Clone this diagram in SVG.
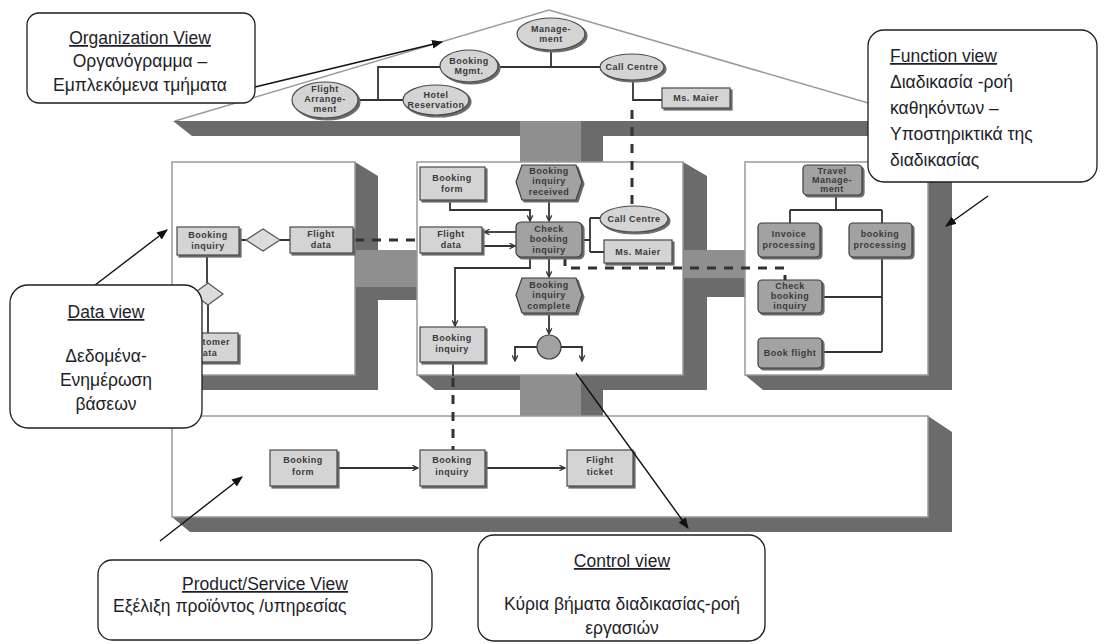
<svg xmlns="http://www.w3.org/2000/svg" width="1105" height="644" viewBox="0 0 1105 644">
<defs>
<style>
.sh{fill:#6b6b6b}
.lt{fill:#8f8f8f}
.blk{fill:#fff;stroke:#9a9a9a;stroke-width:1.5}
.nl{fill:#d4d4d4;stroke:#4a4a4a;stroke-width:1.2;filter:url(#ds)}
.nd{fill:#a2a2a2;stroke:#3a3a3a;stroke-width:1.2;filter:url(#ds)}
.nt{font-family:"Liberation Sans",Arial,sans-serif;font-weight:bold;font-size:9px;fill:#3a3a3a;text-anchor:middle;letter-spacing:0.5px}
.ln{fill:none;stroke:#333;stroke-width:1.8}
.dash{fill:none;stroke:#333;stroke-width:3;stroke-dasharray:9 8}
.co{fill:#fff;stroke:#1e1e1e;stroke-width:1.3}
.ct{font-family:"Liberation Sans",Arial,sans-serif;font-size:17.5px;fill:#1e1e2a}
.u{text-decoration:underline}
.ca{fill:none;stroke:#111;stroke-width:1.4}
</style>
<filter id="ds" x="-10%" y="-10%" width="130%" height="140%">
<feDropShadow dx="2" dy="2" stdDeviation="0.6" flood-color="#6a6a6a" flood-opacity="1"/>
</filter>
<marker id="ar" viewBox="0 0 10 10" refX="9" refY="5" markerWidth="7" markerHeight="7" orient="auto" markerUnits="userSpaceOnUse">
<path d="M1,1 L9,5 L1,9" fill="none" stroke="#333" stroke-width="1.8"/>
</marker>
<marker id="ca" viewBox="0 0 10 10" refX="9" refY="5" markerWidth="11" markerHeight="11" orient="auto" markerUnits="userSpaceOnUse">
<path d="M0,1 L10,5 L0,9 Z" fill="#111"/>
</marker>
</defs>

<g id="house">
<polyline points="175,121 549,10 930,121" fill="#fff" stroke="#9a9a9a" stroke-width="1.5"/>
<polygon class="sh" points="173,121 930,121 930,136 192,136"/>
<rect class="lt" x="520" y="121" width="61" height="41"/>
<rect class="sh" x="581" y="136" width="22" height="26"/>
<polygon class="sh" points="355,162 378,176 378,390 190,390 172,375 355,375"/>
<polygon class="sh" points="683,162 707,176 707,390 435,390 417,375 683,375"/>
<polygon class="sh" points="928,121 952,136 952,390 763,390 745,375 928,375"/>
<polygon class="sh" points="928,416 952,432 952,532 190,532 172,517 928,517"/>
<rect class="lt" x="356" y="250" width="61" height="37"/>
<rect class="sh" x="356" y="287" width="61" height="13"/>
<rect class="lt" x="684" y="250" width="61" height="28"/>
<rect class="sh" x="684" y="278" width="61" height="19"/>
<rect class="lt" x="520" y="375" width="61" height="41"/>
<rect class="sh" x="581" y="375" width="22" height="41"/>
<rect class="blk" x="172" y="162" width="183" height="213"/>
<rect class="blk" x="417" y="162" width="266" height="213"/>
<rect class="blk" x="745" y="162" width="183" height="213"/>
<rect class="blk" x="172" y="416" width="756" height="101"/>
</g>

<g id="connectors">
<path class="ln" d="M551,50 V67 M498,67 H600 M358,100 H403 M378,100 V67 H440 M633,80 V100 H662"/>
<path class="dash" d="M632,110 V206"/>
<path class="ln" d="M450,200 V210 H530 V221" marker-end="url(#ar)"/>
<path class="ln" d="M549,200 V221" marker-end="url(#ar)"/>
<path class="ln" d="M516,232 H484" marker-end="url(#ar)"/>
<path class="ln" d="M482,246 H515" marker-end="url(#ar)"/>
<path class="ln" d="M582,240 H590 M590,218 V252 M590,218 H600 M590,252 H604"/>
<path class="ln" d="M549,257 V277" marker-end="url(#ar)"/>
<path class="ln" d="M530,257 V268 H455 V326" marker-end="url(#ar)"/>
<path class="ln" d="M549,313 V334" marker-end="url(#ar)"/>
<path class="ln" d="M537,347 H515 V361" marker-end="url(#ar)"/>
<path class="ln" d="M561,347 H582 V361" marker-end="url(#ar)"/>
<path class="ln" d="M453,362 V376" stroke-width="3"/>
<path class="dash" d="M453,378 V450"/>
<path class="dash" d="M565,257 V268 H785 V280"/>
<path class="dash" d="M355,240 H420"/>
<path class="ln" d="M239,240 H246 M280,240 H290 M207,255 V283 M208,305 V333" stroke-width="2.5"/>
<path class="ln" d="M836,195 V210 M790,210 H882 M790,210 V223 M882,210 V223 M882,257 V352 M822,297 H882 M822,352 H882"/>
<path class="ln" d="M337,468 H418" marker-end="url(#ar)"/>
<path class="ln" d="M485,468 H565" marker-end="url(#ar)"/>
</g>

<g id="org-management"><ellipse class="nl" cx="551" cy="34" rx="34" ry="16"/><text class="nt" x="551" y="32">Manage-</text><text class="nt" x="551" y="42">ment</text></g>
<g id="org-booking-mgmt"><ellipse class="nl" cx="469" cy="66" rx="29" ry="16"/><text class="nt" x="469" y="64">Booking</text><text class="nt" x="469" y="74">Mgmt.</text></g>
<g id="org-call-centre"><ellipse class="nl" cx="632" cy="67" rx="32" ry="13"/><text class="nt" x="632" y="70">Call Centre</text></g>
<g id="org-flight-arrangement"><ellipse class="nl" cx="325" cy="100" rx="33" ry="18"/><text class="nt" x="325" y="92">Flight</text><text class="nt" x="325" y="102">Arrange-</text><text class="nt" x="325" y="112">ment</text></g>
<g id="org-hotel"><ellipse class="nl" cx="436" cy="100" rx="33" ry="15"/><text class="nt" x="436" y="98">Hotel</text><text class="nt" x="436" y="108" letter-spacing="0">Reservation</text></g>
<g id="org-ms-maier"><rect class="nl" x="662" y="88" width="68" height="20"/><text class="nt" x="696" y="101">Ms. Maier</text></g>

<g id="mid-booking-form"><rect class="nl" x="420" y="167" width="65" height="33"/><text class="nt" x="452" y="181">Booking</text><text class="nt" x="452" y="192">form</text></g>
<g id="mid-received"><polygon class="nd" points="522,165 576,165 582,182 576,200 522,200 516,182"/><text class="nt" x="549" y="174">Booking</text><text class="nt" x="549" y="184">inquiry</text><text class="nt" x="549" y="195">received</text></g>
<g id="mid-check"><rect class="nd" x="516" y="222" width="66" height="35" rx="5"/><text class="nt" x="549" y="232">Check</text><text class="nt" x="549" y="242">booking</text><text class="nt" x="549" y="253">inquiry</text></g>
<g id="mid-flight-data"><rect class="nl" x="420" y="227" width="62" height="26"/><text class="nt" x="451" y="237">Flight</text><text class="nt" x="451" y="248">data</text></g>
<g id="mid-call-centre"><ellipse class="nl" cx="634" cy="219" rx="34" ry="13"/><text class="nt" x="634" y="222">Call Centre</text></g>
<g id="mid-ms-maier"><rect class="nl" x="604" y="240" width="68" height="23"/><text class="nt" x="638" y="255">Ms. Maier</text></g>
<g id="mid-complete"><polygon class="nd" points="522,278 576,278 582,295 576,313 522,313 516,295"/><text class="nt" x="549" y="288">Booking</text><text class="nt" x="549" y="298">inquiry</text><text class="nt" x="549" y="309">complete</text></g>
<g id="mid-connector"><circle cx="549" cy="347" r="12" fill="#a2a2a2" stroke="#3a3a3a" stroke-width="1.2"/></g>
<g id="mid-booking-inquiry"><rect class="nl" x="420" y="327" width="65" height="35"/><text class="nt" x="452" y="341">Booking</text><text class="nt" x="452" y="352">inquiry</text></g>

<g id="data-booking-inquiry"><rect class="nl" x="177" y="227" width="62" height="28"/><text class="nt" x="208" y="238">Booking</text><text class="nt" x="208" y="249">inquiry</text></g>
<g id="data-rel1"><polygon points="246,240 263,229 280,240 263,251" fill="#dcdcdc" stroke="#555" stroke-width="1.2"/></g>
<g id="data-flight-data"><rect class="nl" x="290" y="227" width="63" height="26"/><text class="nt" x="321" y="237">Flight</text><text class="nt" x="321" y="248">data</text></g>
<g id="data-rel2"><polygon points="193,294 208,283 223,294 208,305" fill="#dcdcdc" stroke="#555" stroke-width="1.2"/></g>
<g id="data-customer"><rect class="nl" x="177" y="333" width="61" height="29"/><text class="nt" x="207" y="345">Customer</text><text class="nt" x="207" y="356">data</text></g>

<g id="fn-travel"><rect class="nd" x="803" y="165" width="59" height="30" rx="4"/><text class="nt" x="832" y="174">Travel</text><text class="nt" x="832" y="183">Manage-</text><text class="nt" x="832" y="192">ment</text></g>
<g id="fn-invoice"><rect class="nd" x="758" y="223" width="62" height="34" rx="4"/><text class="nt" x="789" y="237">Invoice</text><text class="nt" x="789" y="248" letter-spacing="0">processing</text></g>
<g id="fn-booking-proc"><rect class="nd" x="849" y="223" width="63" height="34" rx="4"/><text class="nt" x="880" y="237">booking</text><text class="nt" x="880" y="248" letter-spacing="0">processing</text></g>
<g id="fn-check"><rect class="nd" x="758" y="280" width="64" height="33" rx="4"/><text class="nt" x="790" y="289">Check</text><text class="nt" x="790" y="299">booking</text><text class="nt" x="790" y="309">inquiry</text></g>
<g id="fn-book-flight"><rect class="nd" x="758" y="338" width="64" height="30" rx="4"/><text class="nt" x="790" y="356">Book flight</text></g>

<g id="ps-booking-form"><rect class="nl" x="270" y="450" width="67" height="36"/><text class="nt" x="303" y="463">Booking</text><text class="nt" x="303" y="475">form</text></g>
<g id="ps-booking-inquiry"><rect class="nl" x="420" y="450" width="65" height="36"/><text class="nt" x="452" y="463">Booking</text><text class="nt" x="452" y="475">inquiry</text></g>
<g id="ps-flight-ticket"><rect class="nl" x="567" y="450" width="66" height="36"/><text class="nt" x="600" y="463">Flight</text><text class="nt" x="600" y="475">ticket</text></g>

<g id="callout-arrows">
<path class="ca" d="M255,87 L442,42" marker-end="url(#ca)"/>
<path class="ca" d="M988,196 L946,226" marker-end="url(#ca)"/>
<path class="ca" d="M86,292 L167,230" marker-end="url(#ca)"/>
<path class="ca" d="M160,541 L242,477" marker-end="url(#ca)"/>
<path class="ca" d="M576,373 L688,528" marker-end="url(#ca)"/>
</g>

<g id="callout-organization">
<rect class="co" x="27" y="13" width="228" height="90" rx="12"/>
<text class="ct u" x="140" y="44" text-anchor="middle">Organization View</text>
<text class="ct" x="140" y="67" text-anchor="middle">Οργανόγραμμα –</text>
<text class="ct" x="140" y="91" text-anchor="middle">Εμπλεκόμενα τμήματα</text>
</g>
<g id="callout-function">
<rect class="co" x="868" y="30" width="229" height="152" rx="16"/>
<text class="ct u" x="890" y="62">Function view</text>
<text class="ct" x="890" y="88">Διαδικασία -ροή</text>
<text class="ct" x="890" y="114">καθηκόντων –</text>
<text class="ct" x="890" y="140">Υποστηρικτικά της</text>
<text class="ct" x="890" y="166">διαδικασίας</text>
</g>
<g id="callout-data">
<rect class="co" x="10" y="285" width="192" height="143" rx="18"/>
<text class="ct u" x="106" y="318" text-anchor="middle">Data view</text>
<text class="ct" x="106" y="362" text-anchor="middle">Δεδομένα-</text>
<text class="ct" x="106" y="386" text-anchor="middle">Ενημέρωση</text>
<text class="ct" x="106" y="410" text-anchor="middle">βάσεων</text>
</g>
<g id="callout-product">
<rect class="co" x="98" y="560" width="334" height="80" rx="14"/>
<text class="ct u" x="265" y="590" text-anchor="middle">Product/Service View</text>
<text class="ct" x="113" y="612">Εξέλιξη προϊόντος /υπηρεσίας</text>
</g>
<g id="callout-control">
<rect class="co" x="478" y="535" width="287" height="106" rx="16"/>
<text class="ct u" x="622" y="567" text-anchor="middle">Control view</text>
<text class="ct" x="622" y="610" text-anchor="middle">Κύρια βήματα διαδικασίας-ροή</text>
<text class="ct" x="622" y="634" text-anchor="middle">εργασιών</text>
</g>
</svg>
